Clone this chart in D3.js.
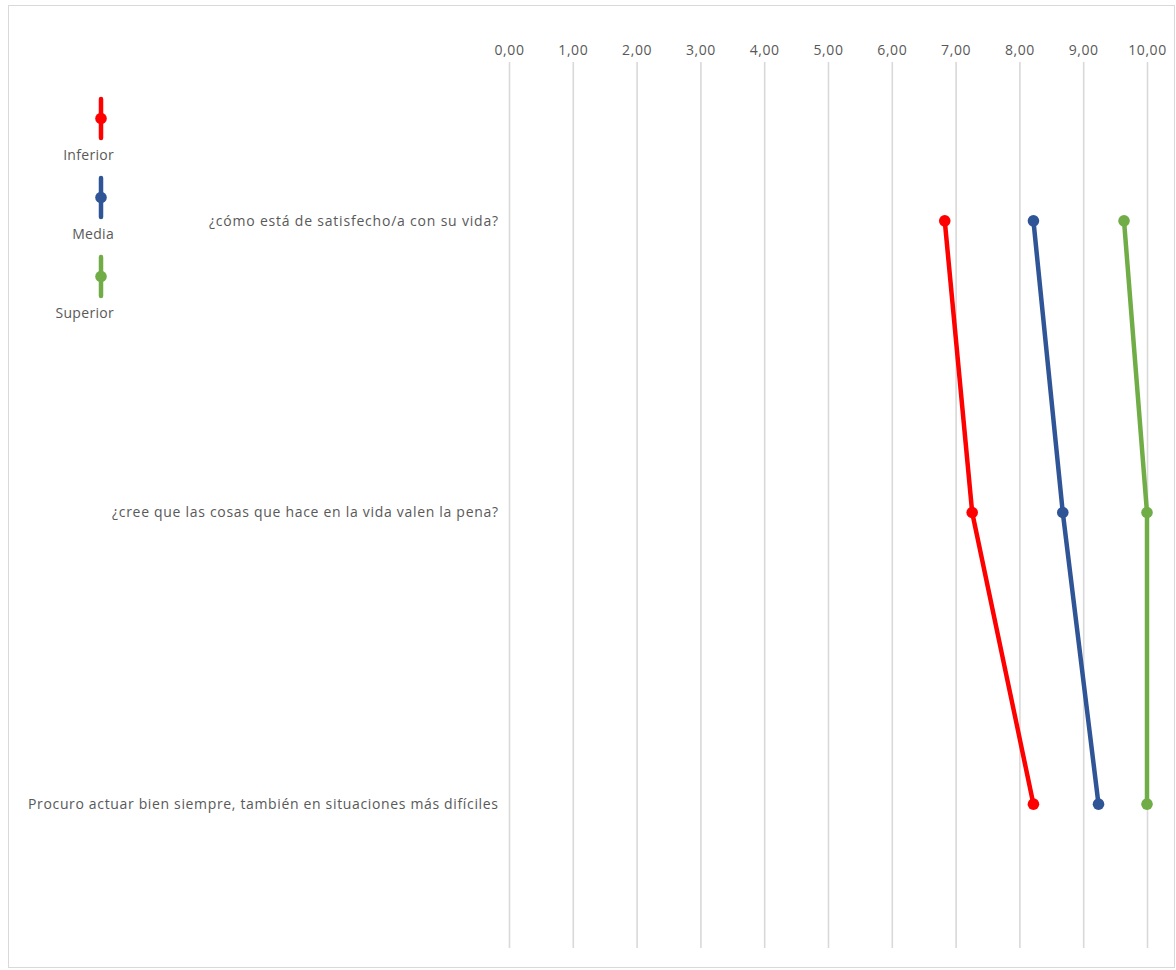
<!DOCTYPE html>
<html>
<head>
<meta charset="utf-8">
<script src="https://cdn.jsdelivr.net/npm/d3@7"></script>
<style>
  html, body { margin: 0; padding: 0; background: #ffffff; }
  svg { display: block; font-family: "Open Sans", "Noto Sans", sans-serif; }
</style>
</head>
<body>
<svg id="chart" width="1176" height="970"></svg>
<script>
// Survey items (one row each, top to bottom)
const questions = [
  "¿cómo está de satisfecho/a con su vida?",
  "¿cree que las cosas que hace en la vida valen la pena?",
  "Procuro actuar bien siempre, también en situaciones más difíciles"
];

// Scores per group, in the same order as the questions
const seriesNames = ["Inferior", "Media", "Superior"];
const inferior = [6.83, 7.26, 8.22];
const media    = [8.22, 8.68, 9.24];
const superior = [9.64, 10.00, 10.00];

const tickValues = [0, 1, 2, 3, 4, 5, 6, 7, 8, 9, 10];

const colors = { "Inferior": "#FF0000", "Media": "#2F5597", "Superior": "#70AD47" };
const seriesValues = { "Inferior": inferior, "Media": media, "Superior": superior };

const svg = d3.select("#chart");

// Chart frame
svg.append("rect")
  .attr("x", 8.5).attr("y", 5.5)
  .attr("width", 1166).attr("height", 962)
  .attr("fill", "none")
  .attr("stroke", "#D9D9D9")
  .attr("stroke-width", 1);

const plotTop = 62, plotBottom = 948;

const x = d3.scaleLinear().domain([0, 10]).range([509, 1147]);
const y = d3.scalePoint().domain(questions).range([75, 950]).padding(0.5);

const esLocale = d3.formatLocale({ decimal: ",", thousands: ".", grouping: [3], currency: ["", " €"] });
const fmt = esLocale.format(".2f");

// Value axis on top, with vertical gridlines running down the plot
const axis = svg.append("g")
  .attr("transform", `translate(0,${plotTop})`)
  .call(d3.axisTop(x)
    .tickValues(tickValues)
    .tickFormat(fmt)
    .tickSizeInner(-(plotBottom - plotTop))
    .tickSizeOuter(0)
    .tickPadding(7));
axis.select(".domain").remove();
axis.selectAll(".tick line")
  .attr("stroke", "#D9D9D9")
  .attr("stroke-width", 1.6);
axis.selectAll(".tick text")
  .attr("fill", "#595959")
  .style("font-size", "14px")
  .style("letter-spacing", "0.6px")
  .style("font-family", "'Open Sans', sans-serif");

// Question labels, right-aligned against the plot
const labelWidths = [289, 386, 470];
svg.append("g").selectAll("text")
  .data(questions)
  .join("text")
  .attr("x", 498)
  .attr("y", d => y(d))
  .attr("dy", "0.35em")
  .attr("text-anchor", "end")
  .attr("fill", "#595959")
  .style("font-size", "14px")
  .attr("textLength", (d, i) => labelWidths[i])
  .attr("lengthAdjust", "spacing")
  .text(d => d);

// Series lines and markers
const line = d3.line()
  .x(d => x(d.v))
  .y(d => y(d.q));

seriesNames.forEach(name => {
  const pts = questions.map((q, i) => ({ q, v: seriesValues[name][i] }));
  const g = svg.append("g");
  g.append("path")
    .datum(pts)
    .attr("d", line)
    .attr("fill", "none")
    .attr("stroke", colors[name])
    .attr("stroke-width", 4.5)
    .attr("stroke-linejoin", "round");
  g.selectAll("circle")
    .data(pts)
    .join("circle")
    .attr("cx", d => x(d.v))
    .attr("cy", d => y(d.q))
    .attr("r", 5.8)
    .attr("fill", colors[name]);
});

// Legend
const legend = svg.append("g");
const legendTop = [99, 178, 257];
seriesNames.forEach((name, i) => {
  const g = legend.append("g").attr("transform", `translate(101,${legendTop[i]})`);
  g.append("line")
    .attr("x1", 0).attr("x2", 0)
    .attr("y1", 0).attr("y2", 39)
    .attr("stroke", colors[name])
    .attr("stroke-width", 4.5)
    .attr("stroke-linecap", "round");
  g.append("circle")
    .attr("cx", 0).attr("cy", 19.5)
    .attr("r", 5.8)
    .attr("fill", colors[name]);
  g.append("text")
    .attr("x", 13)
    .attr("y", 61)
    .attr("text-anchor", "end")
    .attr("fill", "#595959")
    .style("font-size", "14px")
    .style("letter-spacing", "0.3px")
    .text(name);
});
</script>
</body>
</html>
